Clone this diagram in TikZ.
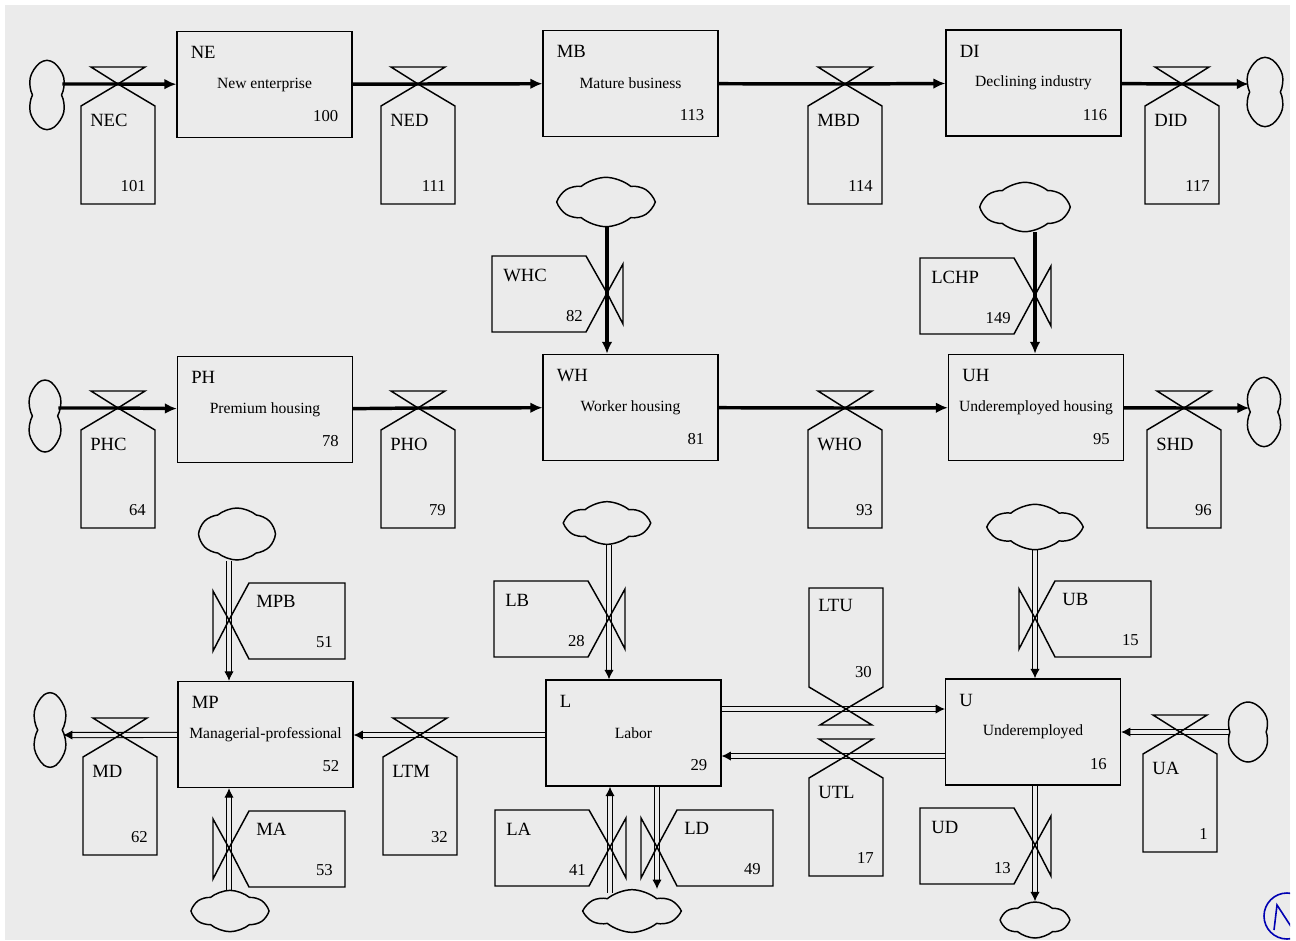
\documentclass[tikz,border=0pt]{standalone}
\usepackage{fontspec}
\setmainfont{Liberation Serif}
\usetikzlibrary{arrows.meta,shapes.symbols,backgrounds}
\definecolor{paper}{RGB}{235,235,235}
\tikzset{
  level/.style={draw, line width=1.1pt, minimum width=131pt, minimum height=79.5pt, inner sep=0pt, font=\fontsize{11.7}{14}\selectfont},
  rate/.style={draw, line width=1.1pt, line join=miter},
  ratename/.style={font=\fontsize{14}{16}\selectfont, inner sep=0pt},
  ratenum/.style={font=\fontsize{12.5}{15}\selectfont, inner sep=0pt},
  sky/.style={cloud, cloud puffs=6, cloud puff arc=80, cloud ignores aspect, draw, line width=1.1pt, inner sep=0pt},
  matflow/.style={line width=2.6pt, -{Latex[length=9pt,width=8pt]}},
  people/.style={draw, double=paper, double distance=3pt, line width=0.8pt, -{Latex[length=7pt,width=7pt]}},
}
% level: name, x, y, text, number
\newcommand{\levelbox}[5]{%
  \node[level] (#1) at (#2,#3) {#4};
  \begin{scope}[shift={(#2,#3)}]
    \node[ratename, anchor=west] at (-74,-32) {#1};
    \node[ratenum, anchor=east] at (74,32) {#5};
  \end{scope}}
% valve on a horizontal flow, rate box below
\newcommand{\valvebelow}[4]{%
  \begin{scope}[shift={(#1,#2)}]
    \coordinate (#3) at (0,0);
    \draw[rate] (-27,-17) -- (27,-17) -- (0,0) -- cycle;
    \draw[rate] (0,0) -- (37,22) -- (37,120) -- (-37,120) -- (-37,22) -- cycle;
    \node[ratename, anchor=west] at (-28,36) {#3};
    \node[ratenum, anchor=east] at (28,102) {#4};
  \end{scope}}
% valve on a horizontal flow, rate box above
\newcommand{\valveabove}[4]{%
  \begin{scope}[shift={(#1,#2)}]
    \coordinate (#3) at (0,0);
    \draw[rate] (-26,16) -- (26,16) -- (0,0) -- cycle;
    \draw[rate] (0,0) -- (37,-22) -- (37,-121) -- (-37,-121) -- (-37,-22) -- cycle;
    \node[ratename, anchor=west] at (-28,-104) {#3};
    \node[ratenum, anchor=east] at (26,-37) {#4};
  \end{scope}}
% valve on a vertical flow, rate box left
\newcommand{\valveleft}[4]{%
  \begin{scope}[shift={(#1,#2)}]
    \coordinate (#3) at (0,0);
    \draw[rate] (16,-29) -- (16,31) -- (0,0) -- cycle;
    \draw[rate] (0,0) -- (-21,-37) -- (-115,-37) -- (-115,39) -- (-21,39) -- cycle;
    \node[ratename, anchor=west] at (-104,-18) {#3};
    \node[ratenum, anchor=east] at (-24,23) {#4};
  \end{scope}}
% valve on a vertical flow, rate box right
\newcommand{\valveright}[4]{%
  \begin{scope}[shift={(#1,#2)}]
    \coordinate (#3) at (0,0);
    \draw[rate] (-16,-29) -- (-16,31) -- (0,0) -- cycle;
    \draw[rate] (0,0) -- (20,-37) -- (116,-37) -- (116,39) -- (20,39) -- cycle;
    \node[ratename, anchor=west] at (27,-19) {#3};
    \node[ratenum, anchor=east] at (104,22) {#4};
  \end{scope}}

\begin{document}
\begin{tikzpicture}[x=0.75pt,y=0.75pt,yscale=-1,xscale=1]
  \useasboundingbox (0,0) rectangle (1296,940);

  % levels
  \levelbox{NE}{264.5}{84.5}{New enterprise}{100}
  \levelbox{MB}{630.5}{83.5}{Mature business}{113}
  \levelbox{DI}{1033.5}{83}{Declining industry}{116}
  \levelbox{PH}{265}{409.5}{Premium housing}{78}
  \levelbox{WH}{630.5}{407.5}{Worker housing}{81}
  \levelbox{UH}{1036}{407.5}{Underemployed housing}{95}
  \levelbox{MP}{265.5}{734.5}{Managerial-professional}{52}
  \levelbox{L}{633.5}{733}{Labor}{29}
  \levelbox{U}{1033}{732}{Underemployed}{16}

  % sources and sinks
  \node[sky, minimum width=29pt, minimum height=52pt] (NEin) at (47,95) {};
  \node[sky, minimum width=30pt, minimum height=52pt] (DIout) at (1265,92) {};
  \node[sky, minimum width=27pt, minimum height=54pt] (PHin) at (45,416) {};
  \node[sky, minimum width=28pt, minimum height=52pt] (UHout) at (1264,412) {};
  \node[sky, minimum width=69pt, minimum height=37pt] (WHin) at (606,202) {};
  \node[sky, minimum width=64pt, minimum height=37pt] (UHin) at (1025,207) {};
  \node[sky, minimum width=27pt, minimum height=56pt] (MPout) at (50,730) {};
  \node[sky, minimum width=56pt, minimum height=39pt] (MPin) at (237,534) {};
  \node[sky, minimum width=55pt, minimum height=31pt] (MPup) at (230,911) {};
  \node[sky, minimum width=61pt, minimum height=32pt] (Lin) at (607,523) {};
  \node[sky, minimum width=68pt, minimum height=32pt] (Lup) at (632,911) {};
  \node[sky, minimum width=67pt, minimum height=34pt] (Uin) at (1035,527) {};
  \node[sky, minimum width=49pt, minimum height=27pt] (Uout) at (1035,920) {};
  \node[sky, minimum width=32pt, minimum height=45pt] (Uright) at (1248,732) {};

  % rates
  \valvebelow{118}{84}{NEC}{101}
  \valvebelow{418}{84}{NED}{111}
  \valvebelow{845}{84}{MBD}{114}
  \valvebelow{1182}{84}{DID}{117}
  \valvebelow{118}{408}{PHC}{64}
  \valvebelow{418}{408}{PHO}{79}
  \valvebelow{845}{408}{WHO}{93}
  \valvebelow{1184}{408}{SHD}{96}
  \valveleft{607}{293}{WHC}{82}
  \valveleft{1035}{295}{LCHP}{149}
  \valvebelow{120}{735}{MD}{62}
  \valvebelow{420}{735}{LTM}{32}
  \valveright{229}{620}{MPB}{51}
  \valveright{229}{848}{MA}{53}
  \valveleft{609}{618}{LB}{28}
  \valveleft{610}{847}{LA}{41}
  \valveright{657}{847}{LD}{49}
  \valveabove{846}{709}{LTU}{30}
  \valvebelow{846}{756}{UTL}{17}
  \valveright{1035}{618}{UB}{15}
  \valveleft{1035}{845}{UD}{13}
  \valvebelow{1180}{732}{UA}{1}

  % flows, under the valves
  \begin{scope}[on background layer]
    \fill[white] (0,0) rectangle (1296,940);
    \fill[paper] (5,5) rectangle (1290,940);
    \draw[matflow] (NEin.east |- NEC) -- (NEC) -- (NE);
    \draw[matflow] (NE) -- (NED) -- (MB);
    \draw[matflow] (MB) -- (MBD) -- (DI);
    \draw[matflow] (DI) -- (DID) -- (DIout.west |- DID);
    \draw[matflow] (PHin.east |- PHC) -- (PHC) -- (PH);
    \draw[matflow] (PH) -- (PHO) -- (WH);
    \draw[matflow] (WH) -- (WHO) -- (UH);
    \draw[matflow] (UH) -- (SHD) -- (UHout.west |- SHD);
    \draw[matflow] (WHin.south -| WHC) -- (WHC) -- (WH.north -| WHC);
    \draw[matflow] (UHin.south -| LCHP) -- (LCHP) -- (UH.north -| LCHP);
    \draw[people] (MP) -- (MD) -- (MPout.east |- MD);
    \draw[people] (L.west |- LTM) -- (LTM) -- (MP.east |- LTM);
    \draw[people] (MPin.south -| MPB) -- (MPB) -- (MP.north -| MPB);
    \draw[people] (MPup.north -| MA) -- (MA) -- (MP.south -| MA);
    \draw[people] (Lin.south -| LB) -- (LB) -- (L.north -| LB);
    \draw[people, shorten <=-3pt] (Lup.north -| LA) -- (LA) -- (L.south -| LA);
    \draw[people] (L.south -| LD) -- (LD) -- (Lup.north -| LD);
    \draw[people] (L.east |- LTU) -- (LTU) -- (U.west |- LTU);
    \draw[people] (U.west |- UTL) -- (UTL) -- (L.east |- UTL);
    \draw[people] (Uin.south -| UB) -- (UB) -- (U.north -| UB);
    \draw[people] (U.south -| UD) -- (UD) -- (Uout.north -| UD);
    \draw[people] (Uright.west |- UA) -- (UA) -- (U.east |- UA);
  \end{scope}

  % pen mark in the corner
  \begin{scope}
    \clip (5,5) rectangle (1290,940);
    \draw[blue!70!black, line width=1.2pt] (1287,916) circle (23);
    \draw[blue!70!black, line width=1.2pt] (1274,930) -- (1277,905) -- (1292,928);
  \end{scope}
\end{tikzpicture}
\end{document}
